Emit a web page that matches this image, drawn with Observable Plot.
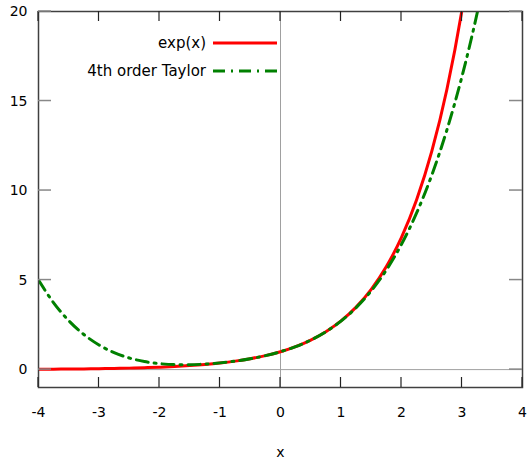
<!DOCTYPE html>
<html><head><meta charset="utf-8">
<script src="https://cdn.jsdelivr.net/npm/d3@7"></script>
<script src="https://cdn.jsdelivr.net/npm/@observablehq/plot@0.6"></script>
<style>body{margin:0;background:#fff} svg{display:block}</style>
</head><body><div id="chart"></div>
<script>
const xs = [-4, -3.75, -3.5, -3.25, -3, -2.75, -2.5, -2.25, -2, -1.75, -1.5, -1.25, -1, -0.75, -0.5, -0.25, 0, 0.25, 0.5, 0.75, 1, 1.25, 1.5, 1.75, 2, 2.25, 2.5, 2.75, 3, 3.25, 3.5];
const expVals = [0.0183, 0.0235, 0.0302, 0.0388, 0.0498, 0.0639, 0.0821, 0.1054, 0.1353, 0.1738, 0.2231, 0.2865, 0.3679, 0.4724, 0.6065, 0.7788, 1, 1.2840, 1.6487, 2.1170, 2.7183, 3.4903, 4.4817, 5.7546, 7.3891, 9.4877, 12.1825, 15.6426, 20.0855, 25.790, 33.115];
const taylorVals = [5.0, 3.7319, 2.7318, 1.9585, 1.375, 0.9482, 0.6484, 0.4508, 0.3333, 0.2789, 0.2734, 0.3075, 0.375, 0.4742, 0.6068, 0.7788, 1, 1.2840, 1.6484, 2.1148, 2.7083, 3.4585, 4.3984, 5.5652, 7.0, 8.7476, 10.8568, 13.3804, 16.375, 19.9013, 24.0234];
const xTicks = [-4, -3, -2, -1, 0, 1, 2, 3, 4];
const yTicks = [0, 5, 10, 15, 20];
const xDomain = [-4, 4];
const yDomain = [-1, 20];
const seriesNames = ["exp(x)", "4th order Taylor"];
const seriesColors = ["#ff0000", "#008000"];
const seriesDash = [null, "12,6,2,6"];
const xLabel = "x";

const expData = xs.map((x, i) => ({x, y: expVals[i]}));
const taylorData = xs.map((x, i) => ({x, y: taylorVals[i]}));

const font = "DejaVu Sans, Verdana, sans-serif";
const fmt = d => String(d);

const W = 528, H = 464, mL = 38, mR = 6, mT = 11, mB = 77;
const xTickLen = 10, yTickLen = 13;

const chart = Plot.plot({
  width: W, height: H,
  marginLeft: mL, marginRight: mR, marginTop: mT, marginBottom: mB,
  style: {fontFamily: font, fontSize: "14px", background: "#fff", color: "#000"},
  x: {domain: xDomain},
  y: {domain: yDomain},
  marks: [
    Plot.ruleY([0], {stroke: "#a0a0a0", strokeWidth: 1}),
    Plot.ruleX([0], {stroke: "#a0a0a0", strokeWidth: 1}),
    Plot.axisX(xTicks, {anchor: "bottom", tickSize: 0, tickPadding: 20, tickFormat: fmt, label: null, fontSize: 14}),
    Plot.axisY(yTicks, {anchor: "left", tickSize: 0, tickPadding: 11, tickFormat: fmt, label: null, fontSize: 14}),
    Plot.text([xLabel], {text: d => d, frameAnchor: "bottom", dy: 69, fontSize: 14}),
    Plot.line(expData, {x: "x", y: "y", stroke: seriesColors[0], strokeWidth: 3, curve: "monotone-x", clip: true}),
    Plot.line(taylorData, {x: "x", y: "y", stroke: seriesColors[1], strokeWidth: 3, strokeDasharray: seriesDash[1], curve: "monotone-x", clip: true}),
    Plot.frame({stroke: "#404040", strokeWidth: 1.5})
  ]
});
document.getElementById("chart").appendChild(chart);

const svg = d3.select(chart);
const fTop = mT, fBottom = H - mB, fLeft = mL, fRight = W - mR;
// same linear mapping as the plot's x and y scales
const sx = d3.scaleLinear().domain(xDomain).range([fLeft, fRight]);
const sy = d3.scaleLinear().domain(yDomain).range([fBottom, fTop]);

// inward ticks on all four sides (gnuplot style)
const tg = svg.append("g").attr("fill", "none");
xTicks.forEach(v => {
  const px = sx(v);
  tg.append("line").attr("x1", px).attr("x2", px).attr("y1", fBottom).attr("y2", fBottom - xTickLen).attr("stroke", "#222").attr("stroke-width", 1.2);
  tg.append("line").attr("x1", px).attr("x2", px).attr("y1", fTop).attr("y2", fTop + xTickLen).attr("stroke", "#222").attr("stroke-width", 1.2);
});
yTicks.forEach(v => {
  const py = sy(v);
  tg.append("line").attr("x1", fLeft).attr("x2", fLeft + yTickLen).attr("y1", py).attr("y2", py).attr("stroke", "#888").attr("stroke-width", 1.5);
  tg.append("line").attr("x1", fRight).attr("x2", fRight - yTickLen).attr("y1", py).attr("y2", py).attr("stroke", "#888").attr("stroke-width", 1.5);
});

// legend inside the plot area (top-left)
const lg = svg.append("g").attr("font-family", font).attr("font-size", 15);
seriesNames.forEach((name, i) => {
  const y = 43 + i * 28;
  lg.append("text").attr("x", 206).attr("y", y).attr("dy", "0.35em").attr("text-anchor", "end").attr("fill", "#000").text(name);
  lg.append("line").attr("x1", 213).attr("x2", 277).attr("y1", y).attr("y2", y)
    .attr("stroke", seriesColors[i]).attr("stroke-width", 3)
    .attr("stroke-dasharray", seriesDash[i]);
});
</script>
</body></html>
